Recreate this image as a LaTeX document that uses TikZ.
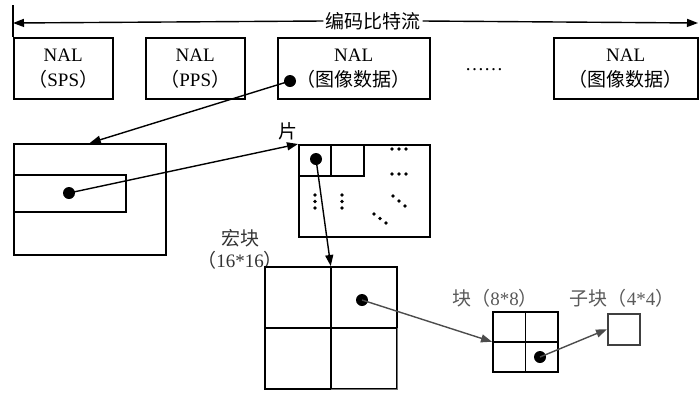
\documentclass[tikz,border=0pt]{standalone}
\usepackage{fontspec}
\setmainfont{Liberation Serif}
\newfontfamily\cjk{Noto Sans CJK SC}
\usetikzlibrary{arrows.meta}

\newcommand{\zh}[1]{{\cjk #1}}

\begin{document}
\begin{tikzpicture}[
    x=1pt, y=-1pt,
    font=\fontsize{19}{25}\selectfont,
    box/.style={draw, line width=1.5pt, minimum width=#1, minimum height=61pt, anchor=north west, align=center, inner sep=0pt},
    rect/.style={draw, line width=1.5pt, anchor=north west, inner sep=0pt},
    dot/.style={circle, fill, inner sep=0pt, minimum size=12pt},
    arr/.style={-{Triangle[length=11pt, width=8pt]}, line width=1.4pt},
    graylabel/.style={text=black!65, inner sep=0pt}
]
    \useasboundingbox (0,0) rectangle (699,392);

    % Bitstream
    \coordinate (barTop) at (13,5);
    \coordinate (streamL) at (13,23);
    \coordinate (streamR) at (698,23);
    \node[inner sep=2pt] (stream) at (373,21) {\zh{编码比特流}};

    % NAL units
    \node[box=99] (sps) at (13,37) {NAL\\\zh{（}SPS\zh{）}};
    \node[box=99] (pps) at (145,37) {NAL\\\zh{（}PPS\zh{）}};
    \node[box=152] (nalA) at (277,37) {NAL\\\zh{（图像数据）}};
    \node[anchor=base] (more) at (484,70) {……};
    \node[box=144] (nalB) at (553,37) {NAL\\\zh{（图像数据）}};

    \draw[line width=1.5pt] (barTop) -- (sps.north west);
    \draw[arr] (stream.west) -- (streamL);
    \draw[arr] (stream.east) -- (streamR);

    % Picture
    \node[rect, minimum width=152pt, minimum height=111pt] (pic) at (13,143) {};
    \node[rect, minimum width=112pt, minimum height=37pt] (row) at (13,174) {};

    % Slice
    \node[inner sep=0pt] (sliceLabel) at (288,131) {\zh{片}};
    \node[rect, minimum width=131pt, minimum height=92pt] (slice) at (298,144) {};
    \node[rect, minimum width=32pt, minimum height=31pt] (cellA) at (298,144) {};
    \node[rect, minimum width=33pt, minimum height=31pt] (cellB) at (330,144) {};
    \foreach \px/\py in {392/149, 399/149, 406/149, 392/174, 399/174, 406/174,
                         315/195, 315/201.5, 315/208, 342/195, 342/201.5, 342/208,
                         393/196, 399/201, 405/206, 374/214, 380/218.5, 386/223}
        \fill (\px,\py) circle (1.8pt);

    % Macroblock
    \node[align=center, text=black!80, inner sep=0pt] (mbLabel) at (240,249) {\zh{宏块}\\[-3pt]\zh{（}16*16\zh{）}};
    \node[rect, minimum width=132pt, minimum height=122pt] (mb) at (264,266) {};
    \draw[line width=1.5pt] (mb.north) -- (mb.south);
    \draw[line width=1.5pt] (mb.west) -- (mb.east);
    \draw[line width=1.5pt, black!55] (mb.east) -- (mb.south east) -- (mb.south);

    % Block and sub-block
    \node[graylabel] (blkLabel) at (495,298) {\zh{块（}8*8\zh{）}};
    \node[rect, minimum width=65pt, minimum height=60pt] (blk) at (492,311) {};
    \draw[line width=1.5pt] (blk.north) -- (blk.south);
    \draw[line width=1.5pt] (blk.west) -- (blk.east);
    \node[graylabel] (subLabel) at (622,298) {\zh{子块（}4*4\zh{）}};
    \node[rect, minimum width=32pt, minimum height=31pt, black!75] (sub) at (607,313) {};

    % Dots
    \node[dot] (dA) at (290,81) {};
    \node[dot] (dB) at (69,193) {};
    \node[dot] (dC) at (316,159) {};
    \node[dot] (dD) at (362,300) {};
    \node[dot] (dE) at (540,357) {};

    % Arrows
    \draw[arr] (dA.center) -- (pic.north);
    \draw[arr] (dB.center) -- (slice.north west);
    \draw[arr] (dC.center) -- (mb.north);
    \draw[arr, black!70] (dD.center) -- (blk.west);
    \draw[arr, black!70] (dE.center) -- (sub.west);
\end{tikzpicture}
\end{document}
